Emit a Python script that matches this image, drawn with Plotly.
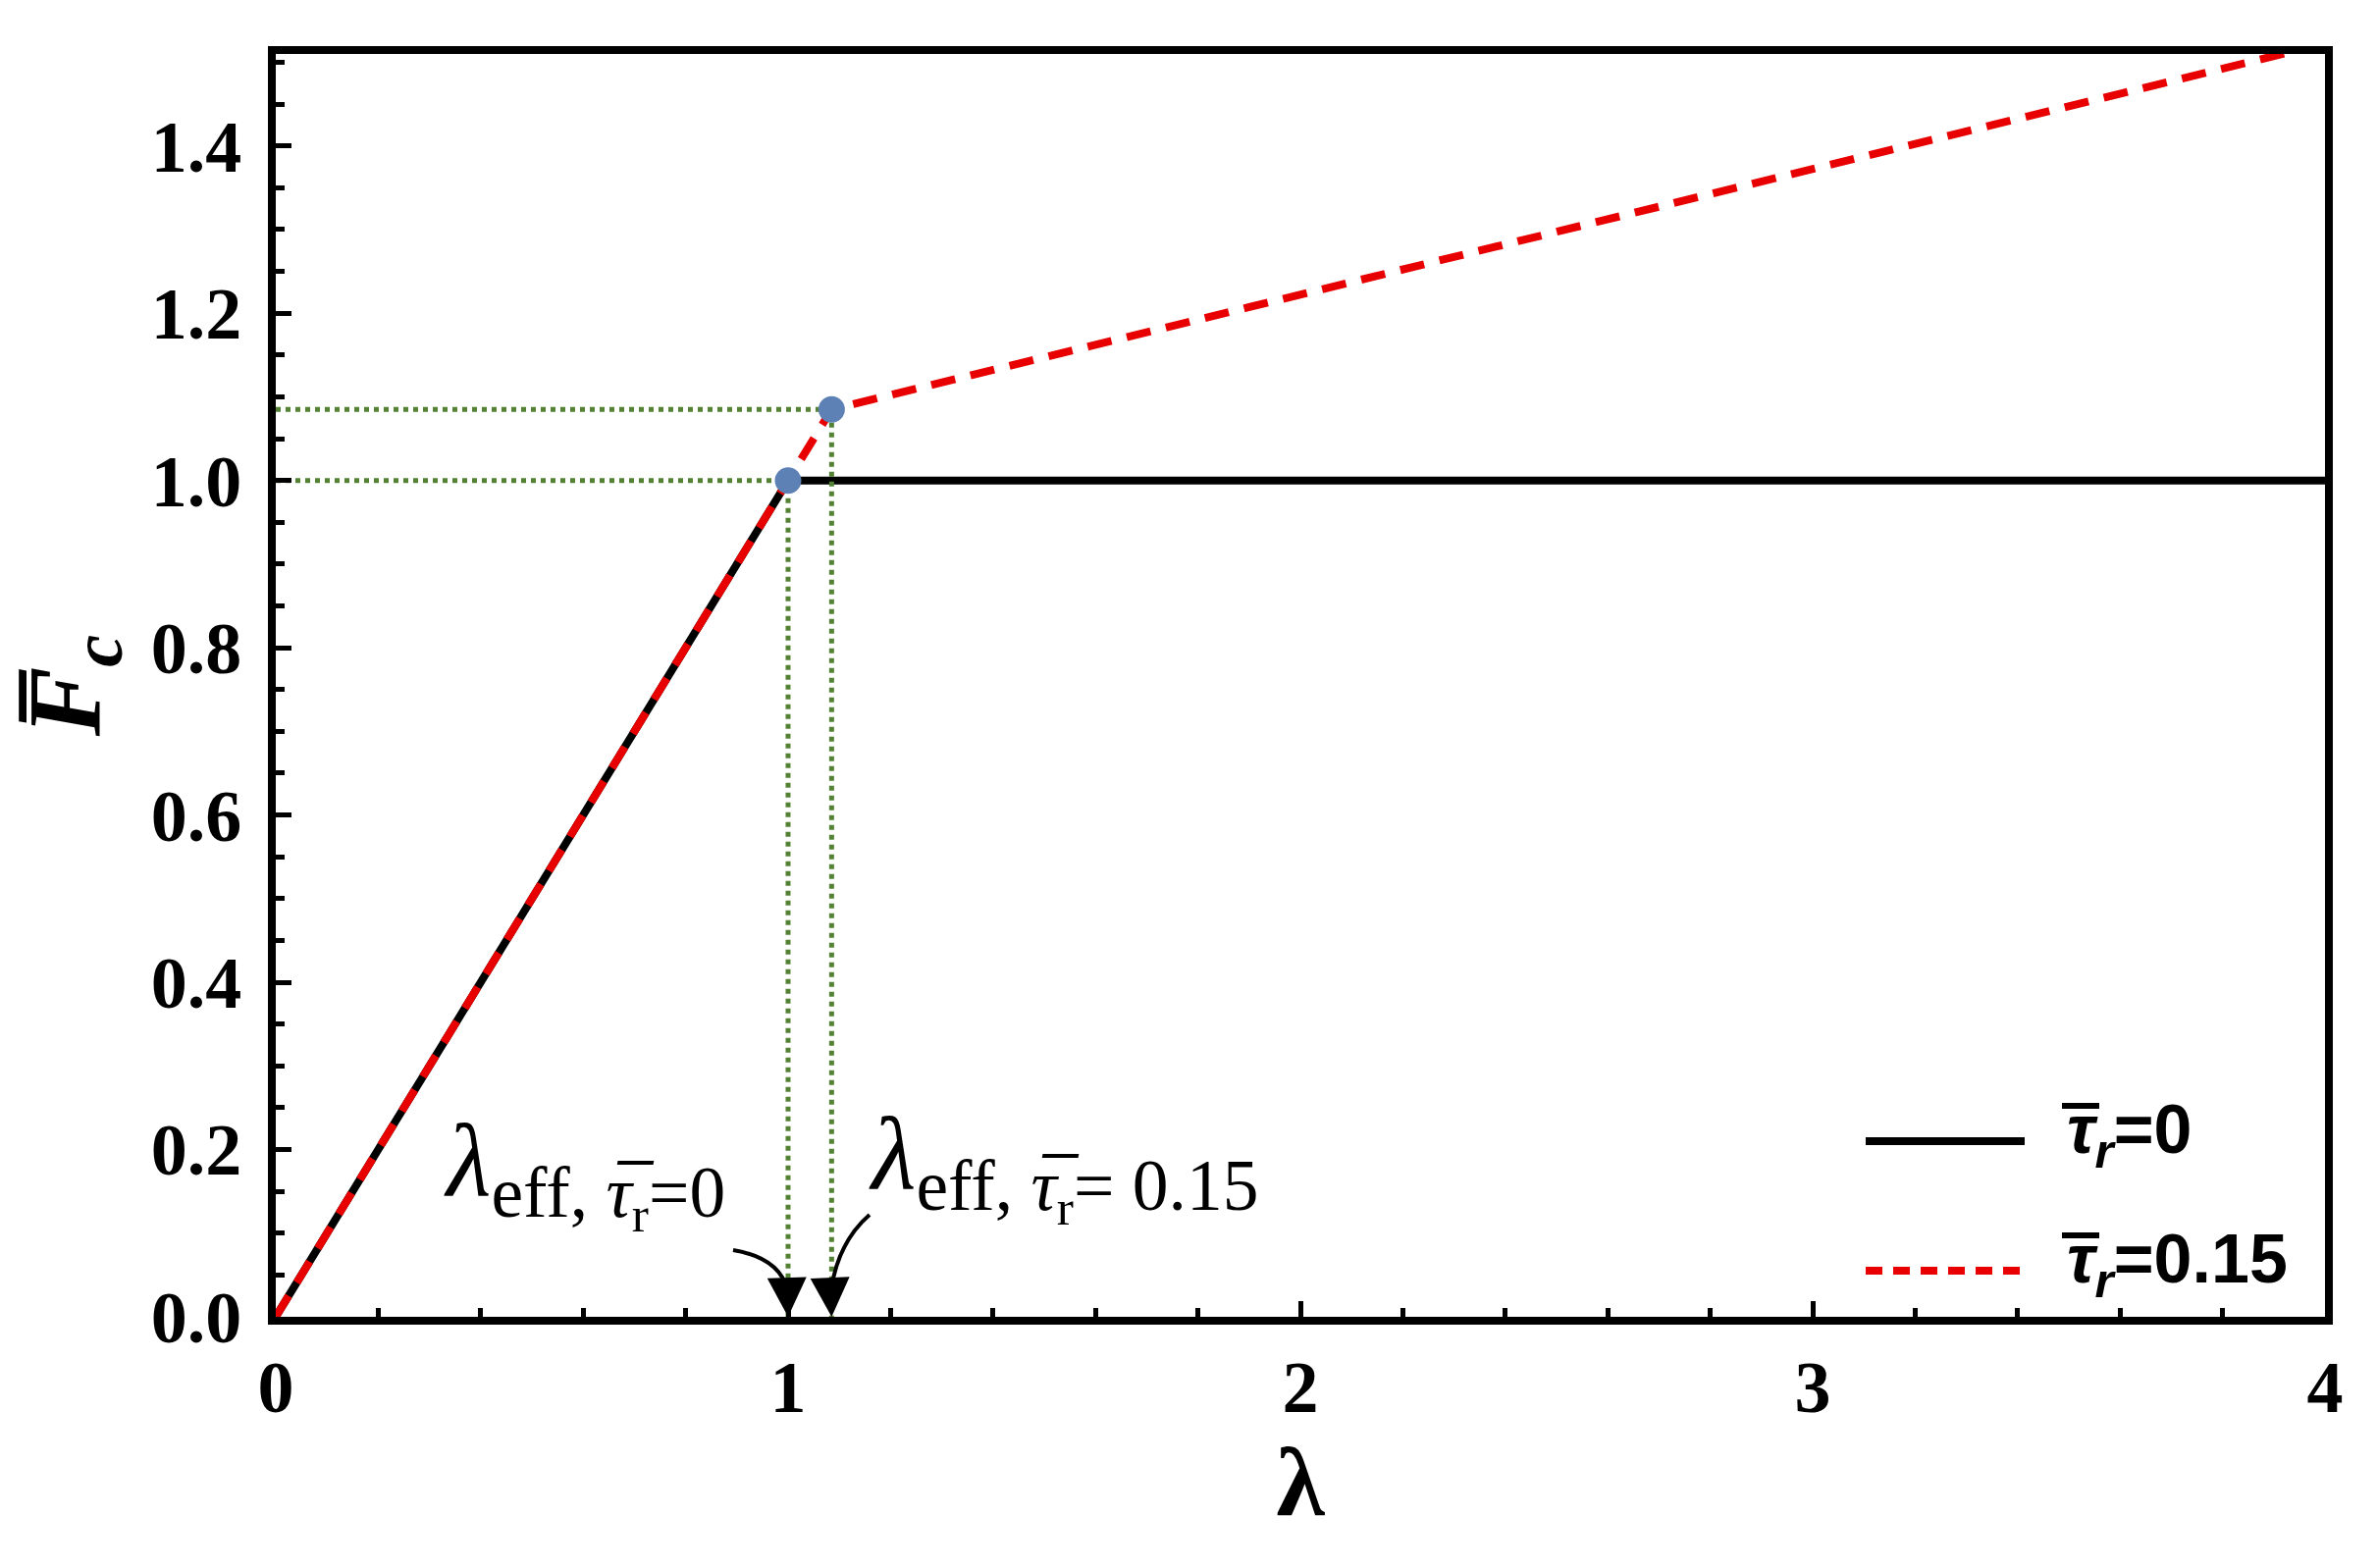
import plotly.graph_objects as go

# curves (lambda vs normalised critical force)
lam_tau0 = [0, 1.0, 4.0]
fc_tau0 = [0, 1.0, 1.0]
lam_tau015 = [0, 1.085, 4.0]
fc_tau015 = [0, 1.085, 1.5225]

# effective lambda points
lam_eff = [1.0, 1.085]
fc_eff = [1.0, 1.085]

xticks = [0, 1, 2, 3, 4]
yticks = [0.0, 0.2, 0.4, 0.6, 0.8, 1.0, 1.2, 1.4]

W, H = 2422, 1598
L, R, T, B = 273, 2361, 47, 1334
XR = [0, 4]
YR = [0, 1.51]

def px(x):
    return (x - L) / (R - L)

def py(y):
    return (B - y) / (B - T)

def dx(x):
    return XR[0] + (x - L) / (R - L) * (XR[1] - XR[0])

def dy(y):
    return YR[0] + (B - y) / (B - T) * (YR[1] - YR[0])

green = "#548235"
red = "#E80000"
serif = "Liberation Serif"
sans = "Liberation Sans"

fig = go.Figure()

fig.add_trace(go.Scatter(x=lam_tau0, y=fc_tau0, mode="lines",
                         line=dict(color="black", width=8), showlegend=False))
fig.add_trace(go.Scatter(x=lam_tau015, y=fc_tau015, mode="lines",
                         line=dict(color=red, width=8, dash="25px,16px"), showlegend=False))

# dotted guide lines to the axes
for xe, ye in zip(lam_eff, fc_eff):
    fig.add_trace(go.Scatter(x=[0, xe, xe], y=[ye, ye, 0], mode="lines",
                             line=dict(color=green, width=5, dash="dot"),
                             showlegend=False))

fig.add_trace(go.Scatter(x=lam_eff, y=fc_eff, mode="markers",
                         marker=dict(color="#5E81B5", size=27), showlegend=False))

# manual legend
fig.add_shape(type="line", xref="paper", yref="paper",
              x0=px(1893), x1=px(2055), y0=py(1155), y1=py(1155),
              line=dict(color="black", width=8))
fig.add_shape(type="line", xref="paper", yref="paper",
              x0=px(1893), x1=px(2055), y0=py(1287), y1=py(1287),
              line=dict(color=red, width=8, dash="17px,11px"))
leg_font = dict(family=sans, size=70, color="black", weight="bold")
for ytxt, ybar, val in [(1148, 1119, "0"), (1280, 1251, "0.15")]:
    fig.add_annotation(x=px(2096), y=py(ytxt), xref="paper", yref="paper",
                       text="<i>τ</i><sub><i>r</i></sub>=" + val, showarrow=False,
                       xanchor="left", yanchor="middle", font=leg_font)
    fig.add_shape(type="line", xref="paper", yref="paper",
                  x0=px(2093), x1=px(2131), y0=py(ybar), y1=py(ybar),
                  line=dict(color="black", width=6))

# lambda_eff labels
lab1 = "<i>λ</i><sub>eff, <i>τ̅</i><sub>r</sub>=0</sub>"
lab2 = "<i>λ</i><sub>eff, <i>τ̅</i><sub>r</sub>= 0.15</sub>"
ann_font = dict(family=serif, size=105, color="black")
fig.add_annotation(x=px(442), y=py(1260), xref="paper", yref="paper", text=lab1,
                   showarrow=False, xanchor="left", yanchor="bottom", font=ann_font)
fig.add_annotation(x=px(875), y=py(1253), xref="paper", yref="paper", text=lab2,
                   showarrow=False, xanchor="left", yanchor="bottom", font=ann_font)

# curved arrows
fig.add_shape(type="path", xref="x", yref="y", line=dict(color="black", width=4),
              path=f"M {dx(739)},{dy(1266)} Q {dx(786)},{dy(1274)} {dx(794)},{dy(1306)}")
fig.add_shape(type="path", xref="x", yref="y", line=dict(color="black", width=4),
              path=f"M {dx(878)},{dy(1230)} Q {dx(846)},{dy(1258)} {dx(839)},{dy(1306)}")
for tip_x, tail_x in [(lam_eff[0], dx(794)), (lam_eff[1], dx(838))]:
    fig.add_annotation(x=tip_x, y=0, ax=tail_x, ay=dy(1302), xref="x", yref="y",
                       axref="x", ayref="y", text="", showarrow=True,
                       arrowhead=2, arrowsize=2.0, arrowwidth=4, arrowcolor="black",
                       standoff=0)

tick_font = dict(family=serif, size=74, color="black", weight="bold")
axis_common = dict(showline=True, linecolor="black", linewidth=8, mirror=True,
                   showgrid=False, zeroline=False, ticks="inside", ticklen=16,
                   tickwidth=5, tickcolor="black", tickfont=tick_font)

fig.update_xaxes(range=XR, tickvals=xticks, ticktext=[str(v) for v in xticks],
                 ticklabelstandoff=0,
                 minor=dict(dtick=0.2, tick0=0, ticks="inside", ticklen=9,
                            tickwidth=5, tickcolor="black"),
                 title=dict(text="<b>λ</b>", font=dict(family=serif, size=100, color="black"),
                            standoff=18),
                 **axis_common)
fig.update_yaxes(range=YR, tickvals=yticks, ticktext=[f"{v:.1f}" for v in yticks],
                 ticklabelstandoff=12,
                 minor=dict(dtick=0.05, tick0=0, ticks="inside", ticklen=9,
                            tickwidth=5, tickcolor="black"),
                 title=dict(text="<b><i>F̅</i><sub><i>c</i></sub></b>",
                            font=dict(family=serif, size=106, color="black"),
                            standoff=24),
                 **axis_common)

fig.update_layout(width=W, height=H, plot_bgcolor="white", paper_bgcolor="white",
                  margin=dict(l=L, r=W - R, t=T, b=H - B, autoexpand=False),
                  showlegend=False)

fig.write_html("out.html")
